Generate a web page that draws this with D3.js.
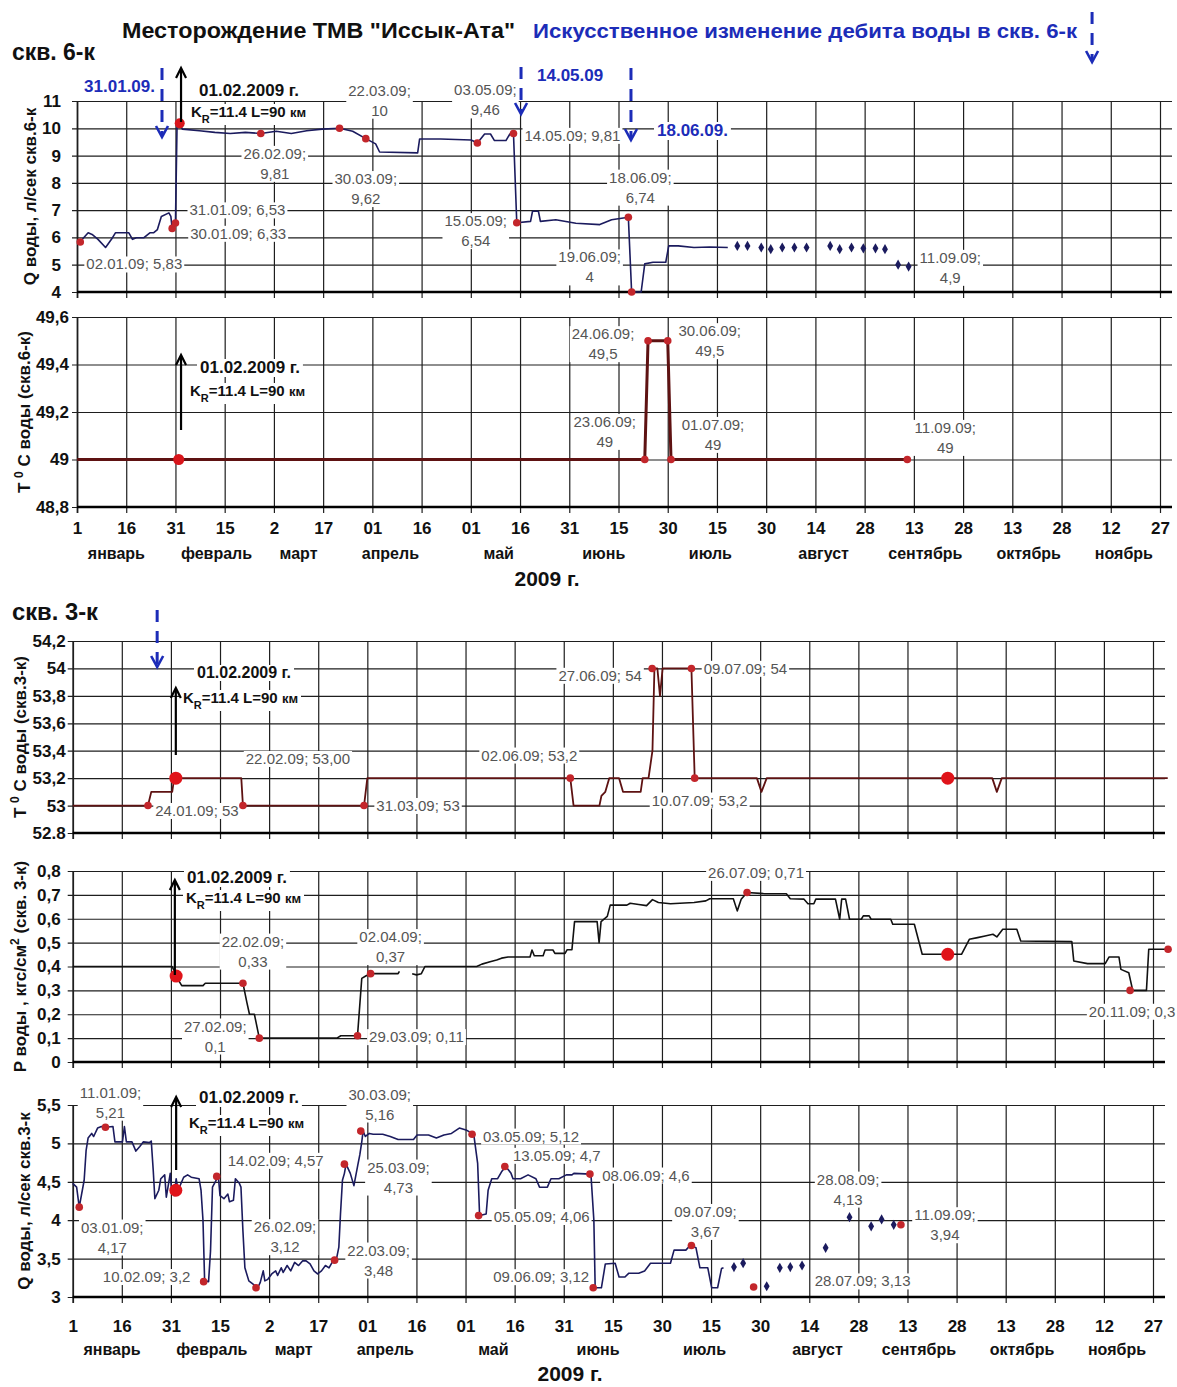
<!DOCTYPE html>
<html>
<head>
<meta charset="utf-8">
<script src="https://cdn.jsdelivr.net/npm/d3@7/dist/d3.min.js"></script>
<style>
body { margin: 0; background: #fff; }
svg { display: block; }
</style>
</head>
<body>
<svg></svg>
<script>
const width = 1177;
const height = 1387;
const FONT = "'Liberation Sans', Arial, sans-serif";
const NARROW = "'Liberation Sans Narrow', 'Arial Narrow', 'Liberation Sans', sans-serif";
const BLUE = "#1c2cb8";
const NAVY = "#1b1b5e";
const BROWN = "#5e1212";
const RED = "#c3262b";

// x axis: day 0 = 1 January 2009, a tick every 15 days
const xTickLabels = ["1","16","31","15","2","17","01","16","01","16","31","15","30","15","30","14","28","13","28","13","28","12","27"];
const months = ["январь","февраль","март","апрель","май","июнь","июль","август","сентябрь","октябрь","ноябрь"];
const monthDays = [12, 42.5, 67.5, 95.5, 128.5, 160.5, 193, 227.5, 258.5, 290, 319];

// y tick labels
const q6YLabels = ["4","5","6","7","8","9","10","11"];
const t6YLabels = ["48,8","49","49,2","49,4","49,6"];
const t3YLabels = ["52.8","53","53,2","53,4","53,6","53,8","54","54,2"];
const p3YLabels = ["0","0,1","0,2","0,3","0,4","0,5","0,6","0,7","0,8"];
const q3YLabels = ["3","3,5","4","4,5","5","5,5"];

// скв. 6-к, Q (day, l/s)
const q6Line = [[0,5.87],[1,5.85],[3.4,6.17],[4.6,6.11],[6.4,5.93],[8.7,5.63],[10.5,5.93],[11.7,6.17],[15.8,6.17],[16.9,5.93],[18.1,5.99],[20.4,5.99],[22.2,6.17],[23.3,6.17],[24.5,6.29],[25.7,6.77],[28,6.9],[28.6,6.77],[29,6.33],[30,6.53],[30.5,10.2],[31.3,10.18],[32.1,9.97],[37.3,9.91],[42,9.85],[46.7,9.81],[51.3,9.85],[56,9.81],[60.7,9.89],[65.3,9.81],[70,9.91],[74.7,9.97],[80,10],[84,9.89],[88,9.62],[91,9.43],[92.2,9.13],[103.8,9.1],[104.4,9.61],[110.8,9.61],[120.1,9.57],[122,9.46],[124.2,9.79],[126,9.79],[127.2,9.55],[130.7,9.55],[131.9,9.79],[133,9.81],[134,6.54],[138.2,6.59],[138.8,6.96],[140.6,6.96],[141.2,6.59],[145.9,6.65],[152,6.52],[159.3,6.47],[162.9,6.65],[168,6.74],[169,4.0],[171.9,4.0],[173,5.03],[175.5,5.09],[179.4,5.09],[180.3,5.69],[183.2,5.69],[188,5.63],[192.8,5.65],[198.3,5.63]];
const q6Dots = [[201.2,5.69],[204.3,5.69],[208.5,5.63],[211.4,5.57],[214.9,5.63],[218.6,5.63],[222.3,5.63],[229.5,5.69],[232.4,5.57],[236,5.63],[239.6,5.6],[243.3,5.6],[246.2,5.57],[250.2,5.0],[253.4,4.93]];
const q6Marks = [["02.01.09","5,83"],["30.01.09","6,33"],["31.01.09","6,53"],["26.02.09","9,81"],["22.03.09","10"],["30.03.09","9,62"],["03.05.09","9,46"],["14.05.09","9,81"],["15.05.09","6,54"],["18.06.09","6,74"],["19.06.09","4"],["11.09.09","4,9",false]];
const q6Big = [[31.3,10.18]];

// скв. 6-к, T
const t6Line = [[0,49],[173,49],[174,49.5],[180,49.5],[181,49],[253,49]];
const t6Marks = [["23.06.09","49"],["24.06.09","49,5"],["30.06.09","49,5"],["01.07.09","49"],["11.09.09","49"]];
const t6Big = [[31,49]];

// скв. 3-к, T
const t3Line = [[0,53],[23,53],[24,53.1],[30.4,53.1],[31,53.2],[51.5,53.2],[52,53],[89,53],[90,53.2],[152,53.2],[153,53],[160.9,53],[161.5,53.07],[162.7,53.1],[163.9,53.2],[166.9,53.2],[168.1,53.1],[173.5,53.1],[174.1,53.2],[175.9,53.2],[177.1,53.4],[177.7,54],[178.6,54],[179.4,53.8],[180.2,54],[189,54],[190,53.2],[209,53.2],[210.4,53.1],[212,53.2],[280.9,53.2],[282.3,53.1],[283.8,53.2],[334.5,53.2]];
const t3Marks = [["24.01.09","53"],["22.02.09","53,00"],["31.03.09","53"],["02.06.09","53,2"],["27.06.09","54"],["09.07.09","54"],["10.07.09","53,2"]];
const t3Big = [[31.5,53.2],[267.3,53.2]];

// скв. 3-к, P (kgf/cm2); null = gap in record
const p3Line = [[0,0.40],[30.4,0.40],[31.6,0.36],[33.3,0.32],[39.8,0.32],[40.5,0.33],[52,0.33],[53.2,0.25],[54,0.2],[55.5,0.2],[57,0.1],[80.7,0.1],[81.9,0.11],[87,0.11],[88.3,0.35],[89.5,0.36],[91,0.37],[99.4,0.37],[99.8,0.38],[100.2,null],[103.7,0.37],[105,0.365],[106.5,0.37],[107.6,0.40],[123.4,0.40],[125,0.41],[127.5,0.42],[129.5,0.427],[131,0.435],[133,0.44],[139.7,0.44],[140.3,0.469],[141,0.445],[143.7,0.445],[144.3,0.469],[146.7,0.469],[147.3,0.455],[150.4,0.455],[151,0.47],[152.5,0.47],[153.3,0.588],[160.2,0.588],[160.8,0.5],[161.4,0.588],[163.3,0.61],[164.2,0.657],[169.3,0.657],[170.3,0.665],[172.9,0.66],[175.3,0.655],[177.1,0.68],[178.9,0.668],[182.6,0.663],[189.8,0.668],[193.4,0.675],[194.6,0.684],[201.8,0.684],[203,0.633],[204.2,0.682],[206,0.71],[211.4,0.705],[218,0.705],[219.2,0.684],[223.4,0.682],[224.6,0.663],[226.4,0.663],[227,0.682],[233,0.682],[234.3,0.598],[234.9,0.682],[236.1,0.682],[237.3,0.598],[240.9,0.598],[241.5,0.612],[243.3,0.612],[243.9,0.598],[249.9,0.598],[250.5,0.577],[257.1,0.577],[259.5,0.451],[271.5,0.451],[273.9,0.514],[276.4,0.521],[278.7,0.528],[281.1,0.535],[282.3,0.524],[284.1,0.556],[288.4,0.556],[289.6,0.507],[305.2,0.504],[305.8,0.423],[310,0.412],[315.4,0.412],[316.6,0.44],[319.6,0.44],[320.2,0.388],[322.6,0.374],[323.8,0.3],[328,0.3],[328.7,0.472],[334.6,0.472]];
const p3Marks = [["22.02.09","0,33"],["27.02.09","0,1"],["29.03.09","0,11"],["02.04.09","0,37"],["26.07.09","0,71"],["20.11.09","0,3"]];
const p3Big = [[31.6,0.36],[267.3,0.451]];
const p3End = [[334.6,0.472]];

// скв. 3-к, Q
const q3Line = [[0,4.48],[1.2,4.43],[2,4.17],[3.5,4.52],[4.1,4.91],[4.7,5.07],[5.8,5.13],[6.4,5.09],[7.6,5.2],[8.8,5.22],[10,5.21],[12.3,5.22],[12.9,5.02],[15.2,5.02],[15.8,5.22],[16.4,5.02],[18.1,5.02],[19.3,4.9],[20.5,4.96],[21.6,5.02],[23.4,5.01],[24,5.03],[24.6,4.65],[25.1,4.28],[26.3,4.39],[26.9,4.54],[28.1,4.59],[28.6,4.3],[29.8,4.61],[30.2,4.39],[31,4.32],[31.6,4.54],[32.2,4.39],[33.3,4.5],[33.9,4.56],[35.1,4.59],[36.2,4.56],[38.6,4.54],[39.2,4.39],[39.8,4.0],[40.3,3.21],[41.5,3.2],[42.1,3.6],[42.7,4.43],[43.8,4.52],[44.5,4.57],[45,4.32],[46.2,4.28],[47.4,4.34],[47.9,4.24],[49.1,4.26],[49.7,4.54],[50.9,4.48],[51.4,4.43],[52,3.86],[52.6,3.38],[53.8,3.21],[55,3.17],[56.5,3.12],[57.3,3.19],[58.2,3.34],[58.7,3.21],[59.6,3.23],[60.8,3.3],[62,3.34],[62.6,3.28],[63.7,3.38],[64.3,3.32],[65.5,3.41],[66.6,3.34],[67.8,3.45],[69,3.41],[70.2,3.47],[71.3,3.47],[72.5,3.43],[73.7,3.34],[74.8,3.3],[76,3.34],[77.2,3.41],[78.3,3.38],[79.5,3.47],[80.5,3.48],[81.3,3.65],[81.8,4.08],[82.4,4.52],[83,4.61],[83.5,4.73],[84.8,4.61],[85.9,4.45],[87.1,4.72],[87.7,4.85],[88.3,5.02],[88.7,5.16],[89.4,5.09],[90.6,5.13],[91.8,5.12],[94.7,5.12],[97,5.09],[99.4,5.05],[104.1,5.05],[105.2,5.11],[108.7,5.11],[111.1,5.07],[113.4,5.11],[115.7,5.13],[118.1,5.2],[120.4,5.17],[122.5,5.12],[123.7,4.74],[124.3,4.06],[126.3,4.08],[126.9,4.39],[128,4.54],[129.8,4.54],[131,4.63],[132.3,4.7],[133.9,4.61],[134.5,4.54],[136.8,4.54],[139.1,4.59],[141.5,4.54],[142.6,4.43],[145,4.43],[146.1,4.54],[148.5,4.54],[150.8,4.59],[152.5,4.59],[153.1,4.61],[158.3,4.6],[159.2,4.0],[159.6,3.12],[161.5,3.12],[162.7,3.43],[165.7,3.44],[166.9,3.26],[168.7,3.26],[169.9,3.31],[172.9,3.31],[174.7,3.34],[176.5,3.44],[182.6,3.44],[183.7,3.61],[187.3,3.61],[188.6,3.67],[190.4,3.64],[191.6,3.38],[194,3.38],[195.2,3.12],[197,3.12],[198.2,3.37],[198.8,3.38]];
const q3Dots = [[202,3.39],[204.8,3.44],[212,3.14],[216,3.38],[219.2,3.39],[222.8,3.41],[230,3.64],[237.3,4.04],[243.9,3.92],[247.1,4.01],[250.8,3.94]];
const q3Marks = [["03.01.09","4,17"],["11.01.09","5,21"],["10.02.09","3,2"],["14.02.09","4,57"],["26.02.09","3,12"],["22.03.09","3,48"],["25.03.09","4,73"],["30.03.09","5,16"],["03.05.09","5,12"],["05.05.09","4,06"],["13.05.09","4,7"],["08.06.09","4,6"],["09.06.09","3,12"],["09.07.09","3,67"],["28.07.09","3,13"],["28.08.09","4,13",false],["11.09.09","3,94"]];
const q3Big = [[31.5,4.39]];

// label placement: [dx, dy, two lines]
const q6LabelPos = [[54,22,0],[66,5,0],[62,-13,0],[14,30,1],[40,-28,1],[0,50,1],[8,-43,1],[59,2,0],[-41,8,1],[12,-30,1],[-42,-25,1],[43,0,1]];
const t6LabelPos = [[-40,-28,1],[-45,3,1],[42,0,1],[42,-25,1],[38,-22,1]];
const t3LabelPos = [[49,5,0],[55,-47,0],[54,0,0],[-41,-23,0],[-52,7,0],[54,0,0],[5,22,0]];
const p3LabelPos = [[10,-32,1],[-44,-2,1],[59,1,0],[20,-27,1],[9,-20,0],[2,21,0]];
const q3LabelPos = [[33,30,1],[5,-25,1],[-57,-5,0],[59,-16,0],[29,-51,1],[44,0,1],[54,13,1],[19,-27,1],[59,2,0],[63,1,0],[52,-11,0],[56,1,0],[-52,-11,0],[14,-24,1],[109,-6,0],[-7,-21,1],[44,0,1]];

const parseDate = d3.timeParse("%d.%m.%y");
const jan1 = new Date(2009, 0, 1);
const dayOf = s => d3.timeDay.count(jan1, parseDate(s));
const num = s => +s.replace(",", ".");
const xTickDays = xTickLabels.map((d, i) => i * 15);

const svg = d3.select("svg")
    .attr("width", width)
    .attr("height", height)
    .style("font-family", FONT);

const xTop = d3.scaleLinear().domain([0, 330]).range([77, 1160]);
const xBot = d3.scaleLinear().domain([0, 330]).range([72.7, 1153]);

function backWhite(g, t, padX) {
    const b = t.node().getBBox();
    g.insert("rect", () => t.node())
        .attr("x", b.x - padX).attr("y", b.y + 1)
        .attr("width", b.width + 2 * padX).attr("height", b.height - 1)
        .attr("fill", "#fff");
}

function panel(x, top, bottom, labels, gap) {
    const vals = labels.map(num);
    const y = d3.scaleLinear().domain(d3.extent(vals)).range([bottom, top]);
    const right = x(330) + 12;
    const g = svg.append("g");
    g.append("g")
        .attr("transform", `translate(${x(0)},0)`)
        .call(d3.axisLeft(y).tickValues(vals).tickFormat((d, i) => labels[i])
            .tickSize(-(right - x(0))).tickPadding(gap))
        .call(a => a.select(".domain").remove())
        .call(a => a.selectAll("line").attr("x1", -5).attr("stroke", "#1e1e1e").attr("stroke-width", 1.2))
        .call(a => a.selectAll("text").attr("font-family", FONT).attr("font-size", 17)
            .attr("font-weight", "bold").attr("fill", "#111"));
    const xg = g.append("g")
        .attr("transform", `translate(0,${bottom})`)
        .call(d3.axisBottom(x).tickValues(xTickDays).tickFormat("")
            .tickSize(-(bottom - top)))
        .call(a => a.select(".domain").remove())
        .call(a => a.selectAll("line").attr("y1", 6).attr("stroke", "#1e1e1e")
            .attr("stroke-width", d => d === 0 ? 1.8 : 1.2));
    g.append("line")
        .attr("x1", x(0)).attr("x2", right)
        .attr("y1", bottom).attr("y2", bottom)
        .attr("stroke", "#000").attr("stroke-width", 2.4);
    return {g, y, x, xg};
}

function xLabels(p, pad, monthY, yearX, yearY) {
    p.xg.selectAll(".tick text").data(xTickLabels)
        .text(d => d)
        .attr("y", pad)
        .attr("font-family", FONT).attr("font-size", 17).attr("font-weight", "bold").attr("fill", "#111");
    svg.append("g").selectAll("text").data(months).join("text")
        .attr("x", (d, i) => p.x(monthDays[i]))
        .attr("y", monthY)
        .attr("text-anchor", "middle")
        .attr("font-size", 16).attr("font-weight", "bold").attr("fill", "#111")
        .text(d => d);
    svg.append("text").attr("x", yearX).attr("y", yearY).attr("text-anchor", "middle")
        .attr("font-size", 21).attr("font-weight", "bold").attr("fill", "#111")
        .text("2009 г.");
}

// parts: plain strings, or [text] for a superscript
function yTitle(p, cx, parts) {
    const cy = (p.y.range()[0] + p.y.range()[1]) / 2;
    const t = svg.append("text")
        .attr("transform", `translate(${cx},${cy}) rotate(-90)`)
        .attr("text-anchor", "middle").attr("dy", "0.35em")
        .attr("font-size", 17).attr("font-weight", "bold").attr("fill", "#111");
    parts.forEach(s => {
        if (Array.isArray(s)) t.append("tspan").attr("baseline-shift", "super").attr("font-size", 12).text(s[0]);
        else t.append("tspan").text(s);
    });
}

function dataLabels(p, marks, pos) {
    const lg = p.g.append("g");
    marks.forEach((m, i) => {
        const px = p.x(dayOf(m[0])) + pos[i][0];
        const py = p.y(num(m[1])) + pos[i][1];
        const lines = pos[i][2] ? [m[0] + ";", m[1]] : [m[0] + "; " + m[1]];
        const t = lg.append("text")
            .attr("text-anchor", "middle")
            .attr("font-family", NARROW).attr("font-size", 15).attr("fill", "#555");
        lines.forEach((s, k) => t.append("tspan")
            .attr("x", px)
            .attr("y", py + (k - (lines.length - 1) / 2) * 20)
            .attr("dy", "0.36em")
            .text(s));
        backWhite(lg, t, 2);
    });
}

function series(p, data, color, w) {
    p.g.append("path")
        .datum(data)
        .attr("fill", "none")
        .attr("stroke", color)
        .attr("stroke-width", w)
        .attr("stroke-linejoin", "round")
        .attr("d", d3.line().defined(d => d[1] !== null).x(d => p.x(d[0])).y(d => p.y(d[1])));
}

function dots(p, data, r, color) {
    p.g.append("g").selectAll("circle").data(data).join("circle")
        .attr("cx", d => p.x(d[0])).attr("cy", d => p.y(d[1]))
        .attr("r", r).attr("fill", color);
}

function markDots(p, marks) {
    dots(p, marks.filter(m => m[2] !== false).map(m => [dayOf(m[0]), num(m[1])]), 3.8, RED);
}

function diamonds(p, data) {
    p.g.append("g").selectAll("path").data(data).join("path")
        .attr("transform", d => `translate(${p.x(d[0])},${p.y(d[1])})`)
        .attr("d", d3.symbol(d3.symbolDiamond, 30))
        .attr("fill", NAVY);
}

function feb1(p, day, headY, tailY, t1x, t1y, t2x, t2y, size) {
    const g = svg.append("g");
    const t1 = g.append("text").attr("x", t1x).attr("y", t1y)
        .attr("font-size", size).attr("font-weight", "bold").attr("fill", "#111")
        .text("01.02.2009 г.");
    backWhite(g, t1, 3);
    const t2 = g.append("text").attr("x", t2x).attr("y", t2y)
        .attr("font-size", 15).attr("font-weight", "bold").attr("fill", "#111");
    t2.append("tspan").text("K");
    t2.append("tspan").attr("baseline-shift", "sub").attr("font-size", 11).text("R");
    t2.append("tspan").text("=11.4  L=90 ");
    t2.append("tspan").attr("font-size", 13).text("км");
    backWhite(g, t2, 3);
    const ax = p.x(day);
    g.append("line").attr("x1", ax).attr("x2", ax).attr("y1", headY + 2).attr("y2", tailY)
        .attr("stroke", "#000").attr("stroke-width", 2.2);
    g.append("path").attr("d", `M${ax - 5},${headY + 10}L${ax},${headY}L${ax + 5},${headY + 10}`)
        .attr("fill", "none").attr("stroke", "#000").attr("stroke-width", 2.2);
}

function blueArrow(x, day, y1, y2) {
    const ax = x(day);
    svg.append("line").attr("x1", ax).attr("x2", ax).attr("y1", y1).attr("y2", y2 - 2)
        .attr("stroke", BLUE).attr("stroke-width", 3).attr("stroke-dasharray", "12,9");
    svg.append("path").attr("d", `M${ax - 6},${y2 - 11}L${ax},${y2}L${ax + 6},${y2 - 11}`)
        .attr("fill", "none").attr("stroke", BLUE).attr("stroke-width", 2.6);
}

// titles
svg.append("text").attr("x", 122).attr("y", 38).attr("textLength", 393).attr("lengthAdjust", "spacingAndGlyphs")
    .attr("font-size", 22).attr("font-weight", "bold").attr("fill", "#111")
    .text("Месторождение ТМВ \"Иссык-Ата\"");
svg.append("text").attr("x", 533).attr("y", 38).attr("textLength", 544).attr("lengthAdjust", "spacingAndGlyphs")
    .attr("font-size", 20).attr("font-weight", "bold").attr("fill", BLUE)
    .text("Искусственное изменение дебита воды в скв. 6-к");
svg.append("text").attr("x", 12).attr("y", 60).attr("textLength", 83).attr("lengthAdjust", "spacingAndGlyphs")
    .attr("font-size", 23).attr("font-weight", "bold").attr("fill", "#111").text("скв. 6-к");
svg.append("text").attr("x", 12).attr("y", 620).attr("textLength", 86).attr("lengthAdjust", "spacingAndGlyphs")
    .attr("font-size", 23).attr("font-weight", "bold").attr("fill", "#111").text("скв. 3-к");

// panel 1: Q 6-к
const p1 = panel(xTop, 101, 292, q6YLabels, 16);
dataLabels(p1, q6Marks, q6LabelPos);
series(p1, q6Line, NAVY, 1.6);
diamonds(p1, q6Dots);
markDots(p1, q6Marks);
dots(p1, q6Big, 5, "#d8151b");
yTitle(p1, 30, ["Q воды, л/сек скв.6-к"]);

// panel 2: T 6-к
const p2 = panel(xTop, 317, 507, t6YLabels, 8);
dataLabels(p2, t6Marks, t6LabelPos);
series(p2, t6Line, BROWN, 3);
markDots(p2, t6Marks);
dots(p2, t6Big, 5.5, "#d8151b");
yTitle(p2, 24, ["T ", ["0"], " C воды (скв.6-к)"]);
xLabels(p2, 15, 559, 547, 586);

// panel 3: T 3-к
const p3 = panel(xBot, 641, 833, t3YLabels, 7);
dataLabels(p3, t3Marks, t3LabelPos);
series(p3, t3Line, BROWN, 1.8);
markDots(p3, t3Marks);
dots(p3, t3Big, 6.5, "#e0141a");
yTitle(p3, 20, ["T ", ["0"], " C воды (скв.3-к)"]);

// panel 4: P 3-к
const p4 = panel(xBot, 871, 1062, p3YLabels, 12);
dataLabels(p4, p3Marks, p3LabelPos);
series(p4, p3Line, "#111", 1.6);
markDots(p4, p3Marks);
dots(p4, p3End, 3.8, RED);
dots(p4, p3Big, 6.5, "#e0141a");
yTitle(p4, 20, ["P воды , кгс/см", ["2"], "  (скв. 3-к)"]);

// panel 5: Q 3-к
const p5 = panel(xBot, 1105, 1297, q3YLabels, 12);
dataLabels(p5, q3Marks, q3LabelPos);
series(p5, q3Line, NAVY, 1.6);
diamonds(p5, q3Dots);
markDots(p5, q3Marks);
dots(p5, q3Big, 6.5, "#e0141a");
yTitle(p5, 24, ["Q воды, л/сек скв.3-к"]);
xLabels(p5, 23, 1355, 570, 1381);

// 01.02.2009 annotations
feb1(p1, 31.7, 68, 122, 199, 96, 191, 117, 17);
feb1(p2, 31.7, 355, 430, 200, 373, 190, 396, 17);
feb1(p3, 31.5, 688, 755, 197, 678, 183, 703, 16);
feb1(p4, 31.2, 880, 975, 187, 883, 186, 903, 17);
feb1(p5, 31.6, 1097, 1170, 199, 1103, 189, 1128, 17);

// artificial discharge changes
blueArrow(xTop, 309.3, 12, 62);
blueArrow(xTop, 25.9, 68, 137);
blueArrow(xTop, 135.3, 67, 114);
blueArrow(xTop, 168.8, 68, 140);
blueArrow(xBot, 25.8, 610, 667);
[["31.01.09.", 155, 92, "end"], ["14.05.09", 537, 81, "start"], ["18.06.09.", 657, 136, "start"]].forEach(d => {
    const t = svg.append("text").attr("x", d[1]).attr("y", d[2]).attr("text-anchor", d[3])
        .attr("font-size", 17).attr("font-weight", "bold").attr("fill", BLUE).text(d[0]);
    backWhite(svg, t, 3);
});
</script>
</body>
</html>
